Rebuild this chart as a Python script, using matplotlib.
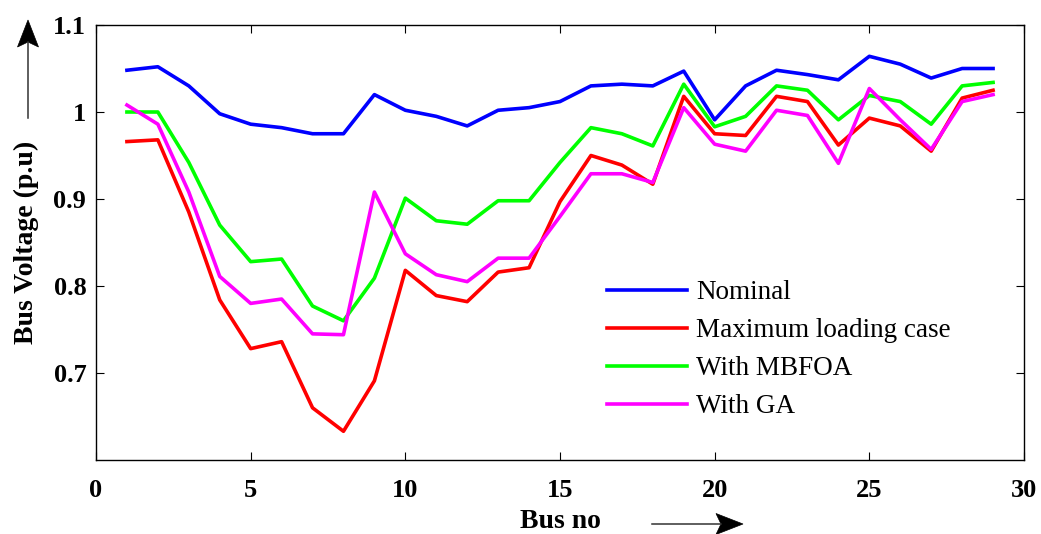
import numpy as np
import matplotlib.pyplot as plt
from matplotlib.patches import Polygon
from matplotlib.lines import Line2D

bus = np.arange(1, 30)
nominal = [1.048, 1.052, 1.030, 0.998, 0.986, 0.982, 0.975, 0.975, 1.020, 1.002,
           0.995, 0.984, 1.002, 1.005, 1.012, 1.030, 1.032, 1.030, 1.047, 0.991,
           1.030, 1.048, 1.043, 1.037, 1.064, 1.055, 1.039, 1.050, 1.050]
max_load = [0.966, 0.968, 0.885, 0.784, 0.728, 0.736, 0.660, 0.633, 0.691, 0.818,
            0.789, 0.782, 0.816, 0.821, 0.897, 0.950, 0.939, 0.917, 1.018, 0.975,
            0.973, 1.018, 1.012, 0.962, 0.993, 0.984, 0.955, 1.016, 1.025]
mbfoa = [1.000, 1.000, 0.942, 0.870, 0.828, 0.831, 0.777, 0.760, 0.809, 0.901,
         0.875, 0.871, 0.898, 0.898, 0.942, 0.982, 0.975, 0.961, 1.032, 0.983,
         0.995, 1.030, 1.025, 0.991, 1.019, 1.012, 0.986, 1.030, 1.034]
ga = [1.008, 0.986, 0.908, 0.811, 0.780, 0.785, 0.745, 0.744, 0.908, 0.837,
      0.813, 0.805, 0.832, 0.832, 0.880, 0.929, 0.929, 0.919, 1.005, 0.963,
      0.955, 1.002, 0.996, 0.941, 1.027, 0.991, 0.957, 1.012, 1.020]

plt.rcParams['font.family'] = 'Liberation Serif'

W, H = 1041, 534
fig = plt.figure(figsize=(W / 100, H / 100), dpi=100)
ax = fig.add_axes([96 / W, 1 - 460 / H, 928 / W, 435 / H])

lw = 2.6
ax.plot(bus, nominal, color='#0000ff', lw=lw, label='Nominal')
ax.plot(bus, max_load, color='#ff0000', lw=lw, label='Maximum loading case')
ax.plot(bus, mbfoa, color='#00ff00', lw=lw, label='With MBFOA')
ax.plot(bus, ga, color='#ff00ff', lw=lw, label='With GA')

ax.set_xlim(0, 30)
ax.set_ylim(0.6, 1.1)
ax.set_xticks([0, 5, 10, 15, 20, 25, 30])
ax.set_yticks([0.7, 0.8, 0.9, 1.0, 1.1])
ax.set_yticklabels(['0.7', '0.8', '0.9', '1', '1.1'])
ax.tick_params(direction='in', top=True, right=True, length=6, width=0.8,
               labelsize=19)
ax.tick_params(axis='x', pad=14)
ax.tick_params(axis='y', pad=7)
for lab in ax.get_xticklabels() + ax.get_yticklabels():
    lab.set_fontweight('bold')
for s in ax.spines.values():
    s.set_linewidth(1.0)

ax.set_xlabel('Bus no', fontsize=20, fontweight='bold', labelpad=5)
ax.set_ylabel('Bus Voltage (p.u)', fontsize=20, fontweight='bold', labelpad=10)

ax.legend(loc='upper left', bbox_to_anchor=(511 / 928, (460 - 280) / 435),
          frameon=False, fontsize=19.5, handlelength=2.95, handletextpad=0.35,
          labelspacing=0.48, borderaxespad=0, borderpad=0)


def arrow(x0, y0, x1, y1, head_len=27, half_w=10.5, notch=5):
    # shaft plus a stealth-shaped head, in pixel coordinates
    d = np.array([x1 - x0, y1 - y0], float)
    d /= np.hypot(*d)
    n = np.array([-d[1], d[0]])
    tip = np.array([x1, y1], float)
    back = tip - d * head_len
    pts = [tip, back + n * half_w, back + d * notch, back - n * half_w]
    pts = [(p[0] / W, 1 - p[1] / H) for p in pts]
    sx, sy = back + d * notch
    fig.add_artist(Line2D([x0 / W, sx / W], [1 - y0 / H, 1 - sy / H],
                          transform=fig.transFigure, color='#333333', lw=1.1))
    fig.add_artist(Polygon(pts, closed=True, transform=fig.transFigure,
                           facecolor='black', edgecolor='black', lw=0.5))


arrow(652, 524, 743, 524)
arrow(28, 118, 28, 20)

fig.savefig('out.png', dpi=100)
